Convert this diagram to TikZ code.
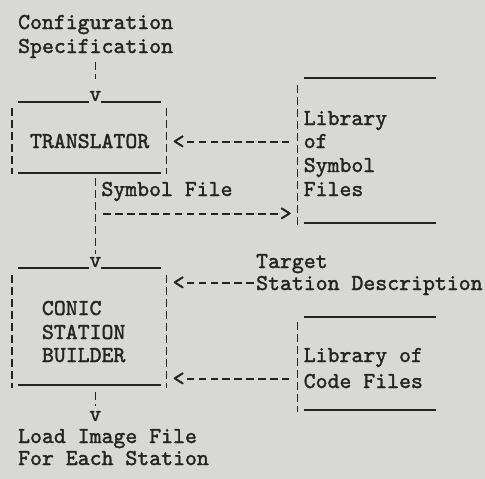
\documentclass[tikz,border=0pt]{standalone}
\usepackage{fontspec}
\newfontfamily\typewriter{lmmono10-regular.otf}[FakeBold=1.6]
\usetikzlibrary{calc}
\definecolor{paper}{HTML}{D8D8D6}
\definecolor{ink}{HTML}{232323}
\begin{document}
\begin{tikzpicture}[x=1pt,y=-1pt,
  txt/.style={inner sep=0pt, anchor=base west, font=\fontsize{22.7}{24}\selectfont\typewriter, text=ink},
  glyph/.style={inner sep=0pt, anchor=center, font=\fontsize{22.7}{24}\selectfont\typewriter, text=ink},
  vbar/.style={draw=ink, line width=1.5pt, dash pattern=on 8pt off 4pt},
  rulebar/.style={draw=ink, line width=1.8pt},
  hdash/.style={draw=ink, line width=1.9pt, dash pattern=on 7.5pt off 4.4pt},
]
\fill[paper] (0,0) rectangle (485,479);
\useasboundingbox (0,0) rectangle (485,479);

% ---- texts ----
\node[txt] (cfg1) at (17.95,29) {Configuration};
\node[txt] (cfg2) at (17.95,53) {Specification};
\node[txt] (tr) at (29.85,148) {TRANSLATOR};
\node[txt] (ls1) at (303.55,125) {Library};
\node[txt] (ls2) at (303.55,148) {of};
\node[txt] (ls3) at (303.55,172) {Symbol};
\node[txt] (ls4) at (303.55,196) {Files};
\node[txt] (sf) at (101.25,196) {Symbol File};
\node[txt] (tg1) at (255.95,268) {Target};
\node[txt] (tg2) at (255.95,290) {Station Description};
\node[txt] (b1) at (41.75,315) {CONIC};
\node[txt] (b2) at (41.75,339) {STATION};
\node[txt] (b3) at (41.75,362) {BUILDER};
\node[txt] (lc1) at (303.55,362) {Library of};
\node[txt] (lc2) at (303.55,388) {Code Files};
\node[txt] (out1) at (17.95,443) {Load Image File};
\node[txt] (out2) at (17.95,465) {For Each Station};

% ---- arrow heads (typed characters) ----
\node[glyph] (v1) at (95.3,96) {v};
\node[glyph] (v2) at (95.3,262) {v};
\node[glyph] (v3) at (95.3,416) {v};
\node[glyph] (a1) at (178.6,142) {<};
\node[glyph] (a2) at (285.7,214) {>};
\node[glyph] (a3) at (178.6,283) {<};
\node[glyph] (a4) at (178.6,379) {<};

% ---- connector ends ----
\coordinate (c1s) at (95.3,62);
\coordinate (c1e) at (95.3,79);
\coordinate (c2s) at (95.3,178);
\coordinate (c2e) at (95.3,254);
\coordinate (c3s) at (95.3,392);
\coordinate (c3e) at (95.3,406);
\coordinate (d1s) at (186.7,142);
\coordinate (d1e) at (291.6,142);
\coordinate (d2s) at (103.4,214);
\coordinate (d2e) at (279.7,214);
\coordinate (d3s) at (186.7,283);
\coordinate (d3e) at (255.9,283);
\coordinate (d4s) at (186.7,379);
\coordinate (d4e) at (291.6,379);

% ---- connectors ----
\draw[vbar] (c1s) -- (c1e);
\draw[vbar] (c2s) -- (c2e);
\draw[vbar] (c3s) -- (c3e);
\draw[hdash] (d1s) -- (d1e);
\draw[hdash] (d2s) -- (d2e);
\draw[hdash] (d3s) -- (d3e);
\draw[hdash] (d4s) -- (d4e);

% ---- TRANSLATOR box ----
\draw[rulebar] (17.95,102) -- (88.95,102);
\draw[rulebar] (100.85,102) -- (160.75,102);
\draw[rulebar] (17.95,173) -- (160.75,173);
\draw[vbar] (12,108) -- (12,174);
\draw[vbar] (166.7,108) -- (166.7,174);

% ---- Library of Symbol Files ----
\draw[rulebar] (303.55,78) -- (436,78);
\draw[rulebar] (303.55,223) -- (436,223);
\draw[vbar] (297.6,85) -- (297.6,227);

% ---- CONIC STATION BUILDER box ----
\draw[rulebar] (17.95,268) -- (88.95,268);
\draw[rulebar] (100.85,268) -- (160.75,268);
\draw[rulebar] (17.95,385) -- (160.75,385);
\draw[vbar] (12,275) -- (12,388);
\draw[vbar] (166.7,275) -- (166.7,388);

% ---- Library of Code Files ----
\draw[rulebar] (303.55,317) -- (436,317);
\draw[rulebar] (303.55,410) -- (436,410);
\draw[vbar] (297.6,322) -- (297.6,412);
\end{tikzpicture}
\end{document}
